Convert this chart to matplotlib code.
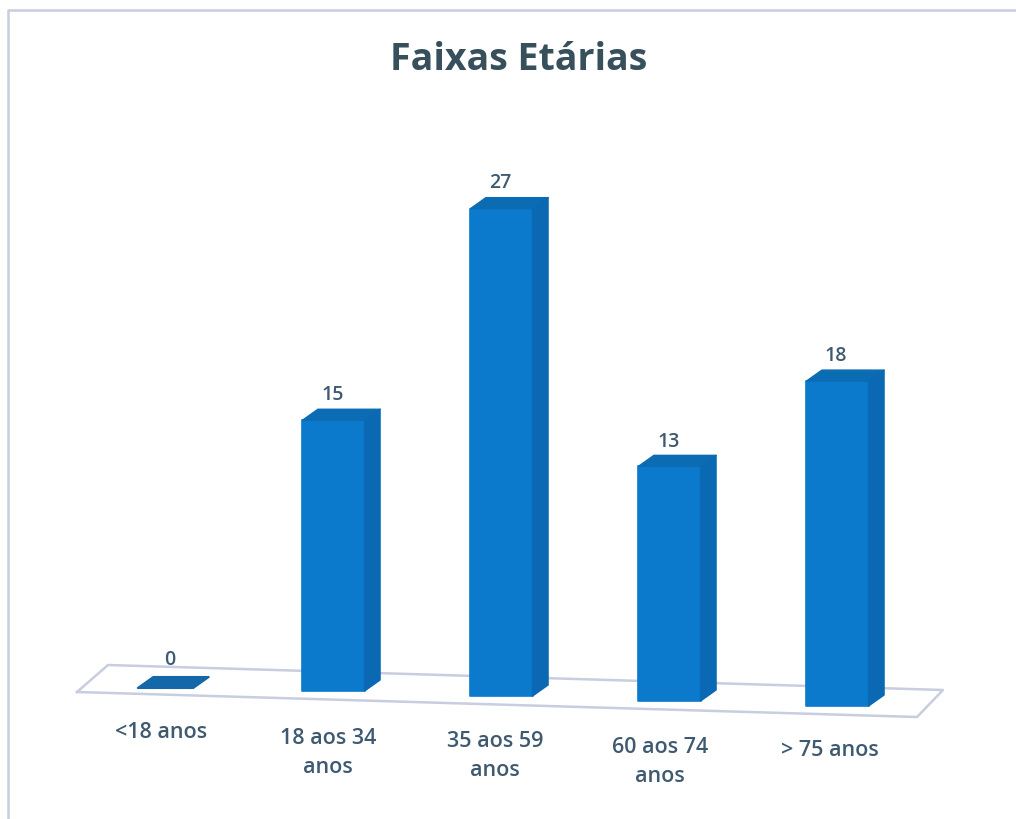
import matplotlib
matplotlib.use('Agg')
import matplotlib.pyplot as plt
from matplotlib.patches import Polygon

plt.rcParams['font.family'] = ['Open Sans', 'DejaVu Sans']

# Data
categories = ['<18 anos', '18 aos 34\nanos', '35 aos 59\nanos', '60 aos 74\nanos', '> 75 anos']
values = [0, 15, 27, 13, 18]

W, H = 1016, 819
X0, XSTEP = 165.5, 168.0   # pixel of first bar centre, pixels per category
Y0, YSTEP = 686.0, 18.05   # pixel of value 0 on first bar, pixels per unit
TILT = 5.0 / YSTEP         # floor slope, in value units per category
BAR_W = 0.37
DX = 15.5 / XSTEP          # fake 3D depth
DY = 11.0 / YSTEP

FRONT = '#0b79cc'
SIDE = '#0a69b2'
TOP = '#0c6cb3'
FLAT = '#1468a8'
GRID = '#c8cddf'
TEXT = '#3f5a70'

fig = plt.figure(figsize=(W / 100, H / 100), dpi=100)
ax = fig.add_axes([0, 0, 1, 1])
ax.set_xlim(-X0 / XSTEP, (W - X0) / XSTEP)
ax.set_ylim((Y0 - H) / YSTEP, Y0 / YSTEP)
ax.axis('off')


# pixel position to data position, for the decoration around the bars
def px(x, y):
    return (x - X0) / XSTEP, (Y0 - y) / YSTEP


# outer frame of the chart
ax.plot(*zip(px(8, 819), px(8, 10), px(1016, 10)), color=GRID, lw=1.8, zorder=1)

# floor
floor = [px(77, 692), px(108, 665), px(943, 690), px(917, 717), px(77, 692)]
ax.plot(*zip(*floor), color=GRID, lw=1.8, zorder=1)

bases = [-TILT * i for i in range(len(values))]
ax.bar(range(len(values)), values, width=BAR_W, bottom=bases, color=FRONT, edgecolor=FRONT,
       linewidth=[0 if v == 0 else 1.2 for v in values], joinstyle='round', zorder=3)

for i, v in enumerate(values):
    b = bases[i]
    l, r = i - BAR_W / 2, i + BAR_W / 2
    if v == 0:
        # empty bar only shows its top face
        ax.add_patch(Polygon([(l + 0.02, b - 2 / YSTEP), (r - 0.02, b - 2 / YSTEP),
                              (r + DX - 0.02, b + DY - 2 / YSTEP), (l + DX + 0.02, b + DY - 2 / YSTEP)],
                             closed=True, facecolor=FLAT, edgecolor=FLAT, lw=1.5, joinstyle='round', zorder=3))
    else:
        t = b + v
        ax.add_patch(Polygon([(l, t), (r, t), (r + DX, t + DY), (l + DX, t + DY)],
                             closed=True, facecolor=TOP, edgecolor=TOP, lw=1, joinstyle='round', zorder=3))
        ax.add_patch(Polygon([(r, b), (r, t), (r + DX, t + DY), (r + DX, b + DY)],
                             closed=True, facecolor=SIDE, edgecolor=SIDE, lw=1, joinstyle='round', zorder=3))

# value labels
value_px = [(170, 660), (333, 395), (500, 183), (669, 442), (836, 356)]
for v, (x, y) in zip(values, value_px):
    ax.text(*px(x, y), str(v), ha='center', va='center', fontsize=14, fontweight='semibold',
            color=TEXT, zorder=4)

# category labels
label_px = [(161, 733), (328, 753), (495, 756), (660, 762), (830, 751)]
for c, (x, y) in zip(categories, label_px):
    ax.text(*px(x, y), c, ha='center', va='center', fontsize=15.5, fontweight='semibold',
            color=TEXT, linespacing=1.45)

ax.text(*px(519, 60), 'Faixas Etárias', ha='center', va='center', fontsize=27,
        fontweight='bold', color='#37505c')

fig.savefig('out.png', dpi=100)
